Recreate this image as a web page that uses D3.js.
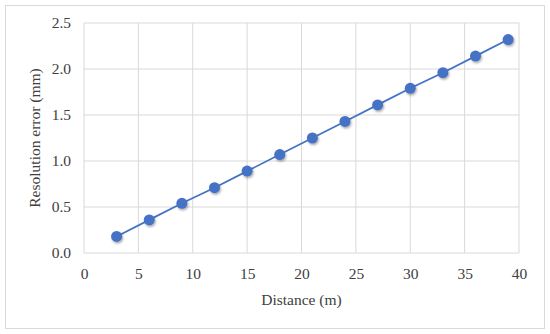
<!DOCTYPE html>
<html lang="en">
<head>
    <meta charset="UTF-8">
    <title>Resolution error</title>
    <script src="https://cdn.jsdelivr.net/npm/d3@7"></script>
    <style>
  body { margin: 0; background: #fff; }
  .tick text { font-family: "Liberation Serif", "DejaVu Serif", serif; font-size: 15.5px; fill: #404040; }
  .title { font-family: "Liberation Serif", "DejaVu Serif", serif; font-size: 15.5px; fill: #404040; }
    </style>
</head>
<body>
    <svg width="550" height="334"></svg>
    <script>

        var distance = [3, 6, 9, 12, 15, 18, 21, 24, 27, 30, 33, 36, 39];
        var resError = [0.18, 0.36, 0.54, 0.71, 0.89, 1.07, 1.25, 1.43, 1.61, 1.79, 1.96, 2.14, 2.32];
        var xTicks = [0, 5, 10, 15, 20, 25, 30, 35, 40];
        var yTicks = [0, 0.5, 1.0, 1.5, 2.0, 2.5];

        var svg = d3.select("svg");

        // outer frame
        svg.append("rect")
            .attr("x", 5.5).attr("y", 5.5)
            .attr("width", 539).attr("height", 323)
            .attr("fill", "#fff").attr("stroke", "#d9d9d9");

        var defs = svg.append("defs");
        var f = defs.append("filter").attr("id", "shadow")
            .attr("x", "-50%").attr("y", "-50%").attr("width", "200%").attr("height", "200%");
        f.append("feDropShadow").attr("dx", 1).attr("dy", 1.5).attr("stdDeviation", 1.2)
            .attr("flood-color", "#000").attr("flood-opacity", 0.35);

        var x = d3.scaleLinear().domain([0, 40]).range([84, 519]);
        var y = d3.scaleLinear().domain([0, 2.5]).range([253, 23]);

        // grid
        svg.append("g").selectAll("line").data(xTicks).enter().append("line")
            .attr("x1", d => x(d)).attr("x2", d => x(d))
            .attr("y1", y(0)).attr("y2", y(2.5))
            .attr("stroke", "#d9d9d9").attr("stroke-width", 1);
        svg.append("g").selectAll("line").data(yTicks).enter().append("line")
            .attr("x1", x(0)).attr("x2", x(40))
            .attr("y1", d => y(d)).attr("y2", d => y(d))
            .attr("stroke", "#d9d9d9").attr("stroke-width", 1);

        var xAxis = svg.append("g")
            .attr("transform", "translate(0," + y(0) + ")")
            .call(d3.axisBottom(x).tickValues(xTicks).tickSize(0).tickPadding(15).tickFormat(d3.format("d")));
        xAxis.select(".domain").remove();

        var yAxis = svg.append("g")
            .attr("transform", "translate(" + x(0) + ",0)")
            .call(d3.axisLeft(y).tickValues(yTicks).tickSize(0).tickPadding(13).tickFormat(d3.format(".1f")));
        yAxis.select(".domain").remove();

        svg.append("text").attr("class", "title")
            .attr("x", x(20)).attr("y", 305)
            .attr("text-anchor", "middle")
            .text("Distance (m)");

        svg.append("text").attr("class", "title")
            .attr("transform", "translate(40," + y(1.25) + ") rotate(-90)")
            .attr("text-anchor", "middle")
            .text("Resolution error (mm)");

        var line = d3.line()
            .x(function(d, i) { return x(distance[i]); })
            .y(function(d) { return y(d); });

        svg.append("path")
            .datum(resError)
            .attr("d", line)
            .attr("fill", "none")
            .attr("stroke", "#4472c4")
            .attr("stroke-width", 1.75);

        svg.append("g").selectAll("circle")
            .data(resError)
            .enter().append("circle")
            .attr("cx", function(d, i) { return x(distance[i]); })
            .attr("cy", function(d) { return y(d); })
            .attr("r", 5.5)
            .attr("fill", "#4472c4")
            .attr("filter", "url(#shadow)");

    </script>
</body>
</html>
